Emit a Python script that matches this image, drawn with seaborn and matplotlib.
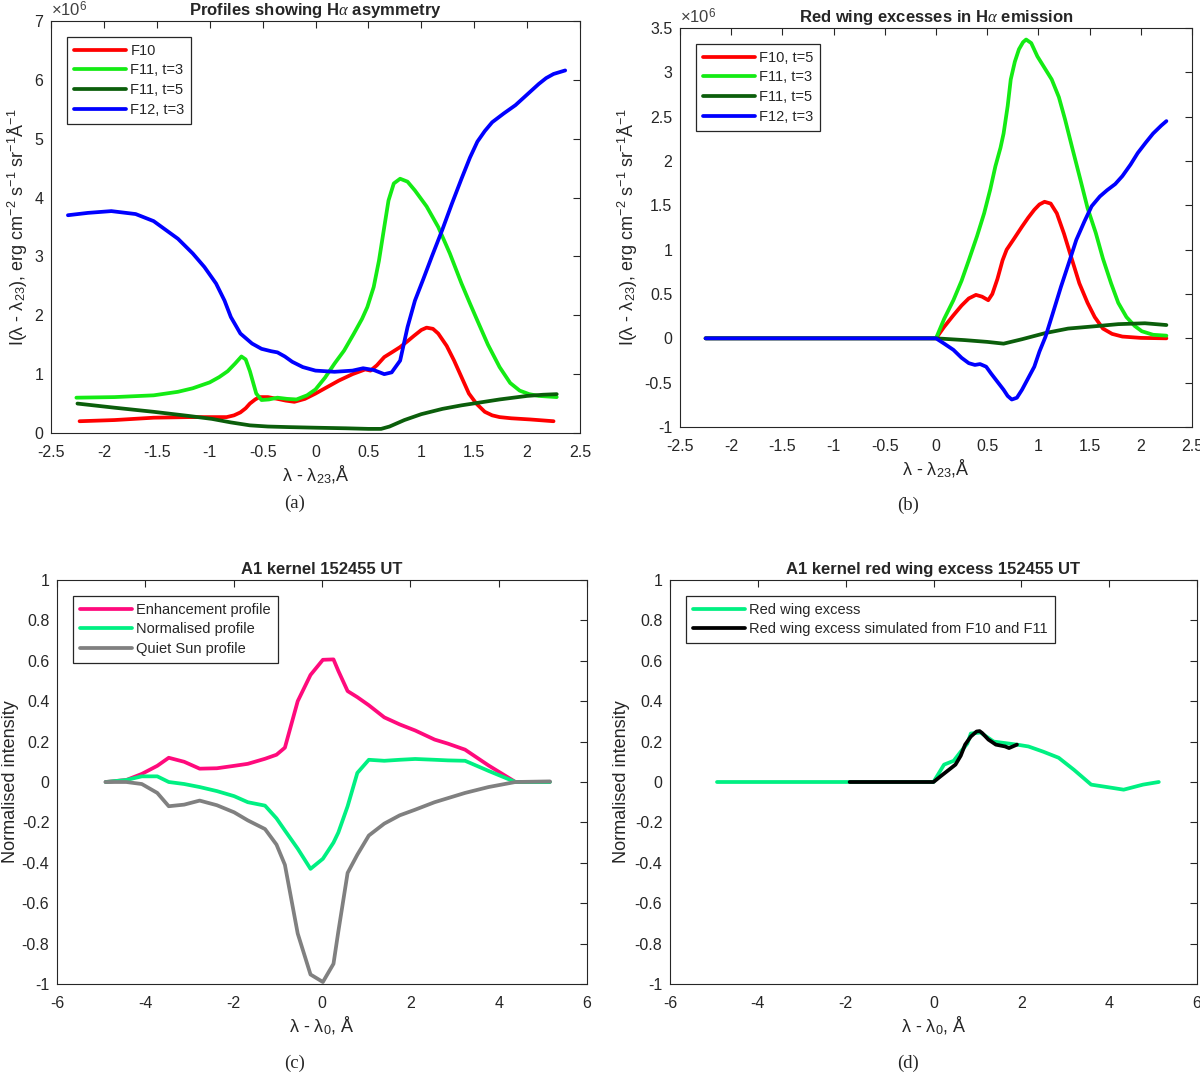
import numpy as np
import matplotlib
matplotlib.use("Agg")
import matplotlib.pyplot as plt
import seaborn as sns
from matplotlib.ticker import FuncFormatter, MultipleLocator

# ---------------- data ----------------
# panel (a): profiles showing H-alpha asymmetry (units of 1e6)
a_f10_x = [-2.23, -1.9, -1.53, -1.2, -0.95, -0.84, -0.77, -0.71, -0.66, -0.62, -0.57, -0.53,
           -0.45, -0.36, -0.28, -0.20, -0.10, 0.0, 0.11, 0.22, 0.35, 0.47, 0.52, 0.58, 0.65,
           0.73, 0.80, 0.87, 0.93, 1.00, 1.05, 1.11, 1.16, 1.24, 1.31, 1.38, 1.45, 1.52, 1.60,
           1.67, 1.74, 1.85, 2.03, 2.25]
a_f10_y = [0.20, 0.22, 0.26, 0.27, 0.27, 0.27, 0.30, 0.35, 0.42, 0.50, 0.57, 0.61,
           0.61, 0.58, 0.55, 0.53, 0.58, 0.67, 0.78, 0.89, 1.00, 1.08, 1.06, 1.15, 1.29,
           1.38, 1.46, 1.56, 1.65, 1.75, 1.79, 1.77, 1.69, 1.48, 1.23, 0.95, 0.67, 0.50, 0.36,
           0.30, 0.27, 0.25, 0.23, 0.20]

a_f11t3_x = [-2.26, -1.9, -1.53, -1.30, -1.16, -1.0, -0.91, -0.83, -0.76, -0.70, -0.66, -0.62,
             -0.56, -0.51, -0.44, -0.36, -0.27, -0.18, -0.08, 0.0, 0.09, 0.18, 0.27, 0.36,
             0.44, 0.49, 0.55, 0.60, 0.65, 0.69, 0.74, 0.80, 0.87, 0.94, 1.05, 1.16, 1.27,
             1.38, 1.46, 1.53, 1.63, 1.74, 1.84, 1.93, 2.02, 2.11, 2.28]
a_f11t3_y = [0.60, 0.61, 0.64, 0.70, 0.76, 0.86, 0.95, 1.05, 1.18, 1.30, 1.25, 1.05,
             0.67, 0.56, 0.57, 0.60, 0.58, 0.57, 0.64, 0.74, 0.94, 1.18, 1.40, 1.68,
             1.94, 2.14, 2.48, 2.93, 3.50, 3.95, 4.24, 4.32, 4.27, 4.12, 3.85, 3.50, 3.05,
             2.54, 2.20, 1.91, 1.50, 1.12, 0.85, 0.72, 0.66, 0.63, 0.61]

a_f11t5_x = [-2.25, -1.9, -1.53, -1.2, -0.98, -0.8, -0.62, -0.45, -0.25, 0.0, 0.29, 0.50,
             0.62, 0.70, 0.84, 1.0, 1.2, 1.38, 1.56, 1.74, 2.0, 2.15, 2.28]
a_f11t5_y = [0.50, 0.43, 0.36, 0.29, 0.24, 0.18, 0.13, 0.11, 0.10, 0.09, 0.08, 0.07,
             0.07, 0.11, 0.22, 0.32, 0.41, 0.47, 0.52, 0.57, 0.63, 0.65, 0.66]

a_f12_x = [-2.34, -2.15, -1.93, -1.70, -1.53, -1.30, -1.16, -1.05, -0.94, -0.86, -0.80, -0.71,
           -0.60, -0.51, -0.42, -0.36, -0.29, -0.22, -0.12, 0.0, 0.18, 0.35, 0.45, 0.55,
           0.65, 0.72, 0.80, 0.87, 0.94, 1.02, 1.10, 1.20, 1.29, 1.38, 1.46, 1.53, 1.60,
           1.67, 1.78, 1.89, 2.0, 2.11, 2.18, 2.25, 2.36]
a_f12_y = [3.70, 3.74, 3.77, 3.72, 3.60, 3.30, 3.05, 2.82, 2.54, 2.25, 1.97, 1.69,
           1.52, 1.43, 1.39, 1.37, 1.30, 1.21, 1.12, 1.06, 1.04, 1.06, 1.10, 1.07,
           1.00, 1.03, 1.23, 1.80, 2.25, 2.62, 3.00, 3.46, 3.90, 4.32, 4.68, 4.95, 5.13,
           5.28, 5.43, 5.57, 5.75, 5.93, 6.03, 6.10, 6.16]

# panel (b): red wing excesses (units of 1e6)
b_f10_x = [-2.25, 0.0, 0.08, 0.17, 0.25, 0.32, 0.39, 0.45, 0.51, 0.55, 0.60, 0.65, 0.69,
           0.76, 0.84, 0.90, 0.96, 1.01, 1.06, 1.12, 1.18, 1.25, 1.33, 1.40, 1.48, 1.55,
           1.63, 1.72, 1.82, 2.0, 2.25]
b_f10_y = [0, 0, 0.13, 0.26, 0.37, 0.45, 0.49, 0.47, 0.43, 0.50, 0.67, 0.88, 1.0,
           1.12, 1.26, 1.36, 1.45, 1.51, 1.54, 1.52, 1.41, 1.18, 0.88, 0.62, 0.40, 0.24,
           0.11, 0.05, 0.02, 0.005, 0]

b_f11t3_x = [-2.25, 0.0, 0.08, 0.17, 0.25, 0.32, 0.40, 0.47, 0.53, 0.58, 0.63, 0.66, 0.70,
             0.73, 0.77, 0.81, 0.85, 0.88, 0.93, 0.99, 1.06, 1.13, 1.20, 1.26, 1.33, 1.41,
             1.48, 1.56, 1.63, 1.71, 1.78, 1.86, 1.94, 2.01, 2.12, 2.25]
b_f11t3_y = [0, 0, 0.22, 0.43, 0.65, 0.88, 1.15, 1.41, 1.68, 1.94, 2.15, 2.31, 2.62,
             2.92, 3.12, 3.26, 3.34, 3.37, 3.33, 3.18, 3.05, 2.92, 2.72, 2.47, 2.15, 1.79,
             1.47, 1.19, 0.90, 0.62, 0.40, 0.24, 0.14, 0.08, 0.04, 0.03]

b_f11t5_x = [-2.25, 0.0, 0.28, 0.5, 0.66, 0.84, 1.07, 1.29, 1.59, 1.78, 2.04, 2.25]
b_f11t5_y = [0, 0, -0.02, -0.04, -0.06, -0.01, 0.06, 0.11, 0.14, 0.16, 0.17, 0.15]

b_f12_x = [-2.25, 0.0, 0.08, 0.17, 0.25, 0.32, 0.38, 0.43, 0.49, 0.54, 0.60, 0.66, 0.70,
           0.74, 0.79, 0.84, 0.90, 0.96, 1.01, 1.07, 1.14, 1.22, 1.30, 1.37, 1.45, 1.52,
           1.60, 1.67, 1.75, 1.82, 1.90, 1.97, 2.05, 2.12, 2.20, 2.25]
b_f12_y = [0, 0, -0.06, -0.13, -0.22, -0.28, -0.30, -0.29, -0.32, -0.40, -0.49, -0.58, -0.65,
           -0.69, -0.67, -0.58, -0.45, -0.32, -0.15, 0.02, 0.28, 0.58, 0.86, 1.11, 1.32, 1.49,
           1.60, 1.67, 1.74, 1.83, 1.96, 2.09, 2.21, 2.31, 2.40, 2.45]

# panel (c): A1 kernel profiles
c_x = [-4.9, -4.43, -4.08, -3.73, -3.47, -3.12, -2.77, -2.38, -1.99, -1.68, -1.29, -1.03,
       -0.84, -0.55, -0.26, 0.02, 0.26, 0.37, 0.58, 0.80, 1.06, 1.41, 1.76, 2.11, 2.55,
       2.85, 3.24, 3.77, 4.38, 5.16]
c_enh = [0, 0.01, 0.04, 0.08, 0.12, 0.10, 0.066, 0.068, 0.08, 0.09, 0.115, 0.135,
         0.17, 0.40, 0.53, 0.605, 0.607, 0.55, 0.45, 0.42, 0.38, 0.32, 0.285, 0.255, 0.21,
         0.19, 0.16, 0.082, 0.0, 0.0]
c_norm = [0, 0.01, 0.028, 0.028, 0.0, -0.01, -0.025, -0.045, -0.07, -0.10, -0.117, -0.18,
          -0.24, -0.33, -0.43, -0.38, -0.30, -0.25, -0.12, 0.045, 0.11, 0.105, 0.11, 0.114, 0.11,
          0.107, 0.105, 0.055, 0.0, 0.0]
c_quiet = [0, 0, -0.01, -0.054, -0.12, -0.112, -0.092, -0.115, -0.15, -0.19, -0.233, -0.31,
           -0.41, -0.75, -0.953, -0.99, -0.90, -0.74, -0.45, -0.36, -0.265, -0.206, -0.165, -0.137, -0.10,
           -0.08, -0.054, -0.025, 0.0, 0.003]

# panel (d): red wing excess
d_obs_x = [-4.93, 0.0, 0.24, 0.46, 0.62, 0.77, 0.85, 1.07, 1.37, 1.90, 2.16, 2.50, 2.85,
           3.2, 3.59, 3.98, 4.33, 4.77, 5.13]
d_obs_y = [0, 0, 0.086, 0.105, 0.15, 0.19, 0.24, 0.245, 0.20, 0.185, 0.176, 0.15, 0.12,
           0.06, -0.013, -0.026, -0.038, -0.013, 0]
d_sim_x = [-1.91, 0.0, 0.16, 0.5, 0.62, 0.72, 0.85, 0.98, 1.05, 1.11, 1.25, 1.42, 1.63,
           1.72, 1.90]
d_sim_y = [0, 0, 0.028, 0.086, 0.13, 0.185, 0.225, 0.25, 0.252, 0.242, 0.21, 0.185, 0.176,
           0.168, 0.185]

# ---------------- style ----------------
sns.set_style("white")
plt.rcParams.update({
    "font.family": ["Liberation Sans", "DejaVu Sans"],
    "font.size": 11,
    "axes.unicode_minus": False,
    "xtick.direction": "in",
    "ytick.direction": "in",
    "xtick.top": True,
    "ytick.right": True,
    "xtick.major.size": 5,
    "ytick.major.size": 5,
    "xtick.major.pad": 8.5,
    "ytick.major.pad": 5.5,
    "xtick.color": "#262626",
    "ytick.color": "#262626",
    "xtick.labelsize": 11.5,
    "ytick.labelsize": 11.5,
    "axes.edgecolor": "#262626",
    "axes.linewidth": 0.8,
    "mathtext.fontset": "custom",
    "mathtext.rm": "Liberation Sans",
    "mathtext.it": "Liberation Serif:italic",
})

RED, LGREEN, DGREEN, BLUE = "#ff0000", "#14eb14", "#0b5e0b", "#0000ff"
PINK, SPRING, GREY = "#ff0a7c", "#00f082", "#808080"
LW = 2.7
LABEL_FS = 13

fig = plt.figure(figsize=(12, 10.83), dpi=100)
W, H = 1200, 1083


def add_ax(l, t, r, b):
    return fig.add_axes([l / W, 1 - b / H, (r - l) / W, (b - t) / H])


ax_a = add_ax(51, 21, 580, 433)
ax_b = add_ax(680, 28, 1192, 427)
ax_c = add_ax(57, 580, 587, 984)
ax_d = add_ax(670, 580, 1197, 984)


def nice(v):
    v = round(v, 8)
    return f"{0.0 if v == 0 else v:g}"


fmt_g = FuncFormatter(lambda v, p: nice(v))
fmt_e6 = FuncFormatter(lambda v, p: nice(v / 1e6))
ylab_I = "I(λ - λ$_{23}$), erg cm$^{-2}$ s$^{-1}$ sr$^{-1}$Å$^{-1}$"
xlab_23 = "λ - λ$_{23}$,Å"
xlab_0 = "λ - λ$_{0}$, Å"


def line(ax, x, y, color, label, scale=1.0):
    sns.lineplot(x=np.array(x), y=np.array(y) * scale, ax=ax, color=color, lw=LW,
                 label=label, sort=False, estimator=None)


def finish(ax, title, xlab, ylab, ylabpad=4):
    ax.set_title(title, fontweight="bold", fontsize=12, pad=4)
    ax.set_xlabel(xlab, fontsize=LABEL_FS, labelpad=3)
    ax.set_ylabel(ylab, fontsize=LABEL_FS, labelpad=ylabpad)
    ax.xaxis.set_major_formatter(fmt_g)
    for s in ax.spines.values():
        s.set_visible(True)
    leg = ax.legend(loc="upper left", fancybox=False, framealpha=1, edgecolor="#262626",
                    fontsize=10.5, handlelength=3.6, borderaxespad=1.1, borderpad=0.45,
                    labelspacing=0.4, handletextpad=0.3)
    leg.get_frame().set_linewidth(0.9)


def times_ten(ax):
    ax.text(0.0, 1.003, r"$\times$10$^{6}$", transform=ax.transAxes, fontsize=12,
            color="#404040", ha="left", va="bottom")


# (a)
line(ax_a, a_f10_x, a_f10_y, RED, "F10", 1e6)
line(ax_a, a_f11t3_x, a_f11t3_y, LGREEN, "F11, t=3", 1e6)
line(ax_a, a_f11t5_x, a_f11t5_y, DGREEN, "F11, t=5", 1e6)
line(ax_a, a_f12_x, a_f12_y, BLUE, "F12, t=3", 1e6)
ax_a.set_xlim(-2.5, 2.5)
ax_a.set_ylim(0, 7e6)
ax_a.xaxis.set_major_locator(MultipleLocator(0.5))
ax_a.yaxis.set_major_locator(MultipleLocator(1e6))
ax_a.yaxis.set_major_formatter(fmt_e6)
times_ten(ax_a)
finish(ax_a, r"Profiles showing H$\alpha$ asymmetry", xlab_23, ylab_I)

# (b)
line(ax_b, b_f10_x, b_f10_y, RED, "F10, t=5", 1e6)
line(ax_b, b_f11t3_x, b_f11t3_y, LGREEN, "F11, t=3", 1e6)
line(ax_b, b_f11t5_x, b_f11t5_y, DGREEN, "F11, t=5", 1e6)
line(ax_b, b_f12_x, b_f12_y, BLUE, "F12, t=3", 1e6)
ax_b.set_xlim(-2.5, 2.5)
ax_b.set_ylim(-1e6, 3.5e6)
ax_b.xaxis.set_major_locator(MultipleLocator(0.5))
ax_b.yaxis.set_major_locator(MultipleLocator(0.5e6))
ax_b.yaxis.set_major_formatter(fmt_e6)
times_ten(ax_b)
finish(ax_b, r"Red wing excesses in H$\alpha$ emission", xlab_23, ylab_I)

# (c)
line(ax_c, c_x, c_enh, PINK, "Enhancement profile")
line(ax_c, c_x, c_norm, SPRING, "Normalised profile")
line(ax_c, c_x, c_quiet, GREY, "Quiet Sun profile")
ax_c.set_xlim(-6, 6)
ax_c.set_ylim(-1, 1)
ax_c.xaxis.set_major_locator(MultipleLocator(2))
ax_c.yaxis.set_major_locator(MultipleLocator(0.2))
ax_c.yaxis.set_major_formatter(fmt_g)
finish(ax_c, "A1 kernel 152455 UT", xlab_0, "Normalised intensity", ylabpad=2)

# (d)
line(ax_d, d_obs_x, d_obs_y, SPRING, "Red wing excess")
line(ax_d, d_sim_x, d_sim_y, "black", "Red wing excess simulated from F10 and F11")
ax_d.set_xlim(-6, 6)
ax_d.set_ylim(-1, 1)
ax_d.xaxis.set_major_locator(MultipleLocator(2))
ax_d.yaxis.set_major_locator(MultipleLocator(0.2))
ax_d.yaxis.set_major_formatter(fmt_g)
finish(ax_d, "A1 kernel red wing excess 152455 UT", xlab_0, "Normalised intensity", ylabpad=3)

# panel letters
for lab, px, py in [("(a)", 295, 503), ("(b)", 908, 505), ("(c)", 295, 1063), ("(d)", 908, 1063)]:
    fig.text(px / W, 1 - py / H, lab, ha="center", va="center", fontsize=13.5,
             family=["Liberation Serif", "DejaVu Serif"])

fig.savefig("out.png", dpi=100)
